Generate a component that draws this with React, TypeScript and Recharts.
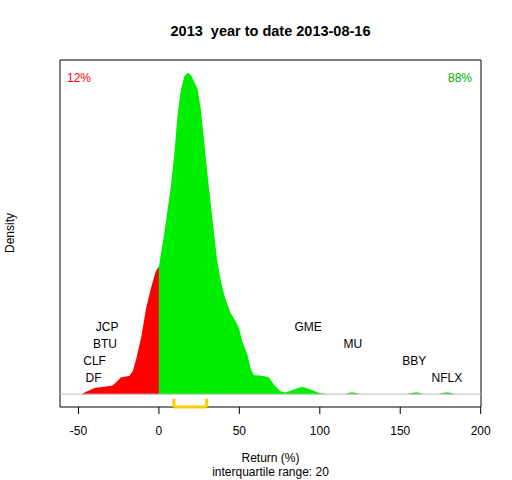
import React from 'react';
import {
  ComposedChart,
  Area,
  XAxis,
  YAxis,
  Scatter,
  ReferenceLine,
  ReferenceArea,
} from 'recharts';

// Density estimate of YTD returns (x = return %, y = density)
const returnsX = [
  -48, -45.3, -40, -34, -28.7, -26, -23.5, -18.4, -16.3, -14.2, -11.1, -8, -5, -2, 0,
  1.4, 3.3, 5.4, 7.4, 9.5, 11.6, 13.6, 15.7, 17.8, 19.8, 21.9, 24, 26, 28.1, 30.2,
  32.3, 34.3, 36.3, 38.4, 40.5, 42.5, 44.6, 47.7, 49.8, 51.8, 54.9, 57, 59, 63.2,
  68.3, 71.4, 75.5, 78.6, 83.8, 89, 94.2, 99.3, 105, 115, 120, 126, 153, 160, 165,
  173, 179, 185, 190,
];
const densityY = [
  0, 0.0002, 0.00053, 0.00062, 0.00073, 0.0011, 0.00143, 0.00154, 0.00194, 0.00293,
  0.00475, 0.00725, 0.00894, 0.01037, 0.0108, 0.012, 0.01358, 0.0156, 0.01754,
  0.02024, 0.02362, 0.02572, 0.02682, 0.02716, 0.02699, 0.0264, 0.02581, 0.02412,
  0.02134, 0.01855, 0.016, 0.0135, 0.01122, 0.00961, 0.00843, 0.00759, 0.00683,
  0.00616, 0.00557, 0.00447, 0.00337, 0.00219, 0.0016, 0.00158, 0.00143, 0.00082,
  0.00025, 0.00014, 0.0004, 0.00062, 0.0004, 0.00011, 0, 0, 0.00017, 0, 0, 0.00017,
  0, 0, 0.00017, 0, 0,
];

// Labelled stocks
const tickers = ['JCP', 'BTU', 'CLF', 'DF', 'GME', 'MU', 'BBY', 'NFLX'];
const tickerReturns = [-32.2, -33.6, -40, -40.6, 92.7, 120.5, 158.7, 179];
const tickerLevels = [0.00564, 0.0042, 0.002765, 0.00133, 0.00564, 0.0042, 0.002765, 0.00133];

// Interquartile range
const q1 = 9.3;
const q3 = 29.7;

const xTicks = [-50, 0, 50, 100, 150, 200];
const xDomain: [number, number] = [-61.5, 200.2];

const title = '2013  year to date 2013-08-16';
const pctNegative = '12%';
const pctPositive = '88%';

const points = returnsX.map((x, i) => ({ x, y: densityY[i] }));
const redData = points.filter((p) => p.x <= 0);
const greenData = points.filter((p) => p.x >= 0);
const labelData = tickers.map((name, i) => ({ x: tickerReturns[i], y: tickerLevels[i], name }));

const yMaxData = Math.max(...densityY);
const yDomain: [number, number] = [-0.04 * yMaxData, 1.04 * yMaxData];
const bracketTop = -0.014 * yMaxData;

const FONT = '"Liberation Sans", Arial, sans-serif';

const LabelShape = (props: any) => {
  const { cx, cy, payload } = props;
  return (
    <text
      x={cx}
      y={cy}
      textAnchor="middle"
      dominantBaseline="central"
      fontSize={12}
      fontFamily={FONT}
      fill="#000"
    >
      {payload.name}
    </text>
  );
};

const textStyle: React.CSSProperties = {
  position: 'absolute',
  fontFamily: FONT,
  whiteSpace: 'pre',
  lineHeight: 1,
};

export default function App() {
  return (
    <div style={{ position: 'absolute', left: 0, top: 0, width: 512, height: 480, background: '#fff' }}>
      <ComposedChart
        width={512}
        height={480}
        margin={{ top: 60, right: 31, bottom: 43, left: 60 }}
      >
        <XAxis
          type="number"
          dataKey="x"
          domain={xDomain}
          ticks={xTicks}
          allowDataOverflow
          axisLine={false}
          tickLine={{ stroke: '#000' }}
          tickSize={7}
          tickMargin={12}
          height={30}
          tick={{ fill: '#000', fontSize: 12, fontFamily: FONT }}
          interval={0}
        />
        <YAxis type="number" dataKey="y" domain={yDomain} hide allowDataOverflow />
        <Area
          data={redData}
          dataKey="y"
          type="linear"
          stroke="none"
          fill="#FF0000"
          fillOpacity={1}
          isAnimationActive={false}
          dot={false}
          activeDot={false}
        />
        <Area
          data={greenData}
          dataKey="y"
          type="linear"
          stroke="none"
          fill="#00EE00"
          fillOpacity={1}
          isAnimationActive={false}
          dot={false}
          activeDot={false}
        />
        <ReferenceLine y={0} stroke="#BEBEBE" strokeWidth={1} />
        <ReferenceLine
          segment={[{ x: q1, y: bracketTop }, { x: q1, y: yDomain[0] }]}
          stroke="#FFCC00"
          strokeWidth={3}
        />
        <ReferenceLine
          segment={[{ x: q3, y: bracketTop }, { x: q3, y: yDomain[0] }]}
          stroke="#FFCC00"
          strokeWidth={3}
        />
        <ReferenceLine
          segment={[{ x: q1, y: yDomain[0] }, { x: q3, y: yDomain[0] }]}
          stroke="#FFCC00"
          strokeWidth={3}
        />
        <ReferenceArea
          x1={xDomain[0]}
          x2={xDomain[1]}
          y1={yDomain[0]}
          y2={yDomain[1]}
          fill="none"
          stroke="#000"
          strokeWidth={1}
          ifOverflow="visible"
        />
        <Scatter data={labelData} dataKey="y" shape={LabelShape} isAnimationActive={false} />
      </ComposedChart>
      <div style={{ ...textStyle, left: 0, width: 541, top: 24, textAlign: 'center', fontSize: 14.5, fontWeight: 'bold' }}>
        {title}
      </div>
      <div style={{ ...textStyle, left: 67, top: 72, fontSize: 12, color: '#FF0000' }}>{pctNegative}</div>
      <div style={{ ...textStyle, left: 372, width: 100, top: 72, fontSize: 12, color: '#00B000', textAlign: 'right' }}>
        {pctPositive}
      </div>
      <div style={{ ...textStyle, left: 0, width: 541, top: 452, textAlign: 'center', fontSize: 12 }}>Return (%)</div>
      <div style={{ ...textStyle, left: 0, width: 541, top: 466, textAlign: 'center', fontSize: 12 }}>
        interquartile range: 20
      </div>
      <div
        style={{
          ...textStyle,
          left: 10,
          top: 233,
          fontSize: 12,
          transform: 'translate(-50%, -50%) rotate(-90deg)',
        }}
      >
        Density
      </div>
    </div>
  );
}
